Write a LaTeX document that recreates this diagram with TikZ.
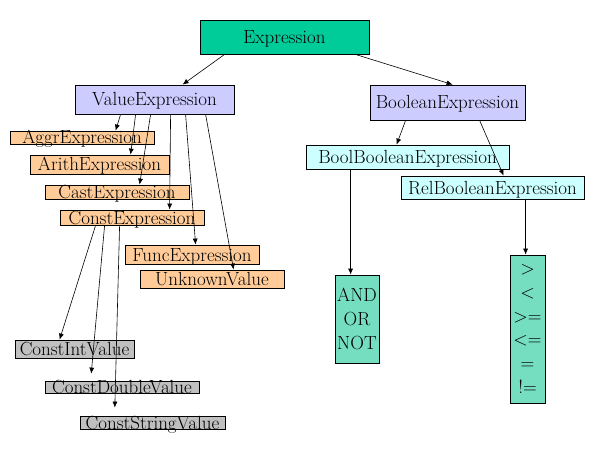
\documentclass[tikz,border=0pt]{standalone}
\usepackage{fontspec}
\usetikzlibrary{arrows.meta}

\definecolor{exprgreen}{RGB}{0,204,153}
\definecolor{valblue}{RGB}{204,204,255}
\definecolor{subtan}{RGB}{255,204,153}
\definecolor{boolcyan}{RGB}{204,255,255}
\definecolor{leafgray}{RGB}{192,192,192}
\definecolor{opteal}{RGB}{118,222,192}

\tikzset{
  box/.style={draw,line width=0.8pt,inner sep=0pt},
  txt/.style={font=\fontsize{19}{23}\selectfont,text height=13pt,text depth=0pt,inner sep=0pt},
  optxt/.style={font=\fontsize{19}{23.8}\selectfont,align=center,inner sep=0pt},
  link/.style={->,line width=0.6pt},
  >={Latex[length=6pt,width=5pt]}
}

\begin{document}
\begin{tikzpicture}[x=1pt,y=-1pt]
  \useasboundingbox (0,0) rectangle (599,449);

  % top
  \node[box,fill=exprgreen,minimum width=169pt,minimum height=34pt,label={[txt]center:Expression}] (expr) at (284.5,37) {};
  \node[box,fill=valblue,minimum width=159pt,minimum height=29pt,label={[txt]center:ValueExpression}] (val) at (154.5,99.5) {};
  \node[box,fill=valblue,minimum width=155pt,minimum height=35pt,label={[txt]center:BooleanExpression}] (bool) at (447.5,102.5) {};

  % value side
  \node[box,fill=subtan,minimum width=144pt,minimum height=13pt,label={[txt]center:AggrExpression}] (aggr) at (82,137.5) {};
  \node[box,fill=subtan,minimum width=139pt,minimum height=19pt,label={[txt]center:ArithExpression}] (arith) at (99.5,164.5) {};
  \node[box,fill=subtan,minimum width=144pt,minimum height=14pt,label={[txt]center:CastExpression}] (cast) at (117,192) {};
  \node[box,fill=subtan,minimum width=144pt,minimum height=15pt,label={[txt]center:ConstExpression}] (const) at (132,217.5) {};
  \node[box,fill=subtan,minimum width=134pt,minimum height=19pt,label={[txt]center:FuncExpression}] (func) at (192,254.5) {};
  \node[box,fill=subtan,minimum width=144pt,minimum height=18pt,label={[txt]center:UnknownValue}] (unknown) at (212,279) {};

  \node[box,fill=leafgray,minimum width=119pt,minimum height=18pt,label={[txt]center:ConstIntValue}] (cint) at (74.5,349) {};
  \node[box,fill=leafgray,minimum width=154pt,minimum height=12pt,label={[txt]center:ConstDoubleValue}] (cdouble) at (122,387) {};
  \node[box,fill=leafgray,minimum width=145pt,minimum height=13pt,label={[txt]center:ConstStringValue}] (cstring) at (152.5,422.5) {};

  % boolean side
  \node[box,fill=boolcyan,minimum width=203pt,minimum height=24pt,label={[txt]center:BoolBooleanExpression}] (boolbool) at (407.5,157) {};
  \node[box,fill=boolcyan,minimum width=183pt,minimum height=23pt,label={[txt]center:RelBooleanExpression}] (relbool) at (492.5,187.5) {};
  \node[box,fill=opteal,minimum width=44pt,minimum height=88pt,label={[optxt]center:{AND\\OR\\NOT}}] (logicops) at (357,319) {};
  \node[box,fill=opteal,minimum width=35pt,minimum height=148pt,label={[optxt]center:{>\\<\\>=\\<=\\=\\!=}}] (relops) at (527.5,329) {};

  % connectors
  \draw[link] ([xshift=25pt]expr.south west) -- ([xshift=108pt]val.north west);
  \draw[link] ([xshift=-14pt]expr.south east) -- ([xshift=83pt]bool.north west);

  \foreach \to/\a/\b in {aggr/46/106, arith/61/101, cast/76/95, const/96/110, func/111/71, unknown/131/94}
    \draw[link] ([xshift=\a pt]val.south west) -- ([xshift=\b pt]\to.north west);

  \draw[link] ([xshift=36pt]bool.south west) -- ([xshift=91pt]boolbool.north west);
  \draw[link] ([xshift=110pt]bool.south west) -- ([xshift=103pt]relbool.north west);
  \draw[link] ([xshift=45pt]boolbool.south west) -- ([xshift=16pt]logicops.north west);
  \draw[link] ([xshift=125pt]relbool.south west) -- ([xshift=16pt]relops.north west);

  \draw[link] ([xshift=36pt]const.south west) -- ([xshift=45pt]cint.north west);
  \draw[link,shorten >=7pt] ([xshift=45pt]const.south west) -- ([xshift=46pt]cdouble.north west);
  \draw[link,shorten >=8pt] ([xshift=60pt]const.south west) -- ([xshift=35pt]cstring.north west);
\end{tikzpicture}
\end{document}
